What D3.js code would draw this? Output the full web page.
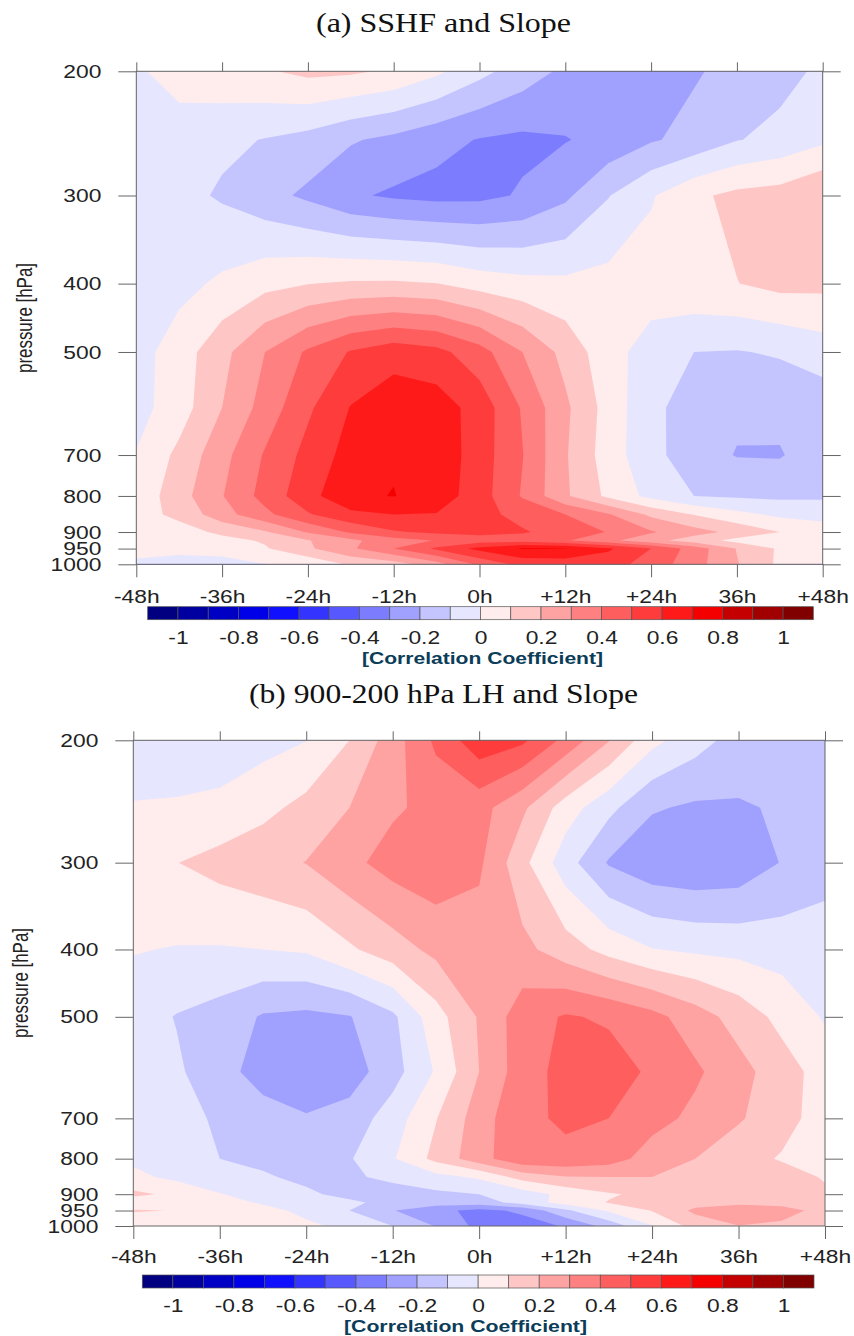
<!DOCTYPE html>
<html>
<head>
<meta charset="utf-8">
<script src="https://cdn.jsdelivr.net/npm/d3@7"></script>
<style>
  html, body { margin: 0; background: #fff; }
  text { font-family: "Liberation Sans", sans-serif; fill: #222; }
  .title { font-family: "Liberation Serif", serif; font-size: 28px; fill: #111; }
</style>
</head>
<body>
<svg id="chart" width="854" height="1336"></svg>
<script>
const lagHours = [-48, -42, -36, -30, -24, -18, -12, -6, 0, 6, 12, 18, 24, 30, 36, 42, 48];
const pressureLevels = [200, 250, 300, 400, 500, 600, 700, 800, 850, 900, 925, 950, 1000];

const xTickValues = [-48, -36, -24, -12, 0, 12, 24, 36, 48];
const xTickLabels = ['-48h', '-36h', '-24h', '-12h', '0h', '+12h', '+24h', '36h', '+48h'];
const yTickValues = [200, 300, 400, 500, 700, 800, 900, 950, 1000];

const contourLevels = d3.range(-10, 11).map(d => d / 10);
const bandColors = [
  '#000080', '#0000a0', '#0000c4', '#0000e8', '#1010ff', '#3434ff', '#5858ff', '#7c7cff', '#a0a0ff', '#c4c4ff', '#e6e6ff',
  '#ffecec', '#ffc6c6', '#ffa2a2', '#ff8080', '#ff5e5e', '#ff3c3c', '#ff1a1a', '#f40000', '#c40000', '#a00000', '#800000'
];
const colorbarTicks = [-1, -0.8, -0.6, -0.4, -0.2, 0, 0.2, 0.4, 0.6, 0.8, 1];

// correlation by pressure level (rows, 200 hPa first) and lag (columns)
const sshfSlope = [
  [-.02, .06, .07, .09, .125, .115, .085, .02, -.07, -.15, -.22, -.25, -.26, -.21, -.17, -.135, -.08],
  [-.06, -.07, -.08, -.104, -.135, -.19, -.225, -.27, -.305, -.32, -.305, -.27, -.21, -.17, -.105, -.07, -.02],
  [-.04, -.07, -.112, -.165, -.22, -.285, -.315, -.33, -.325, -.29, -.22, -.105, -.01, .08, .125, .14, .2],
  [-.04, -.03, .018, .069, .097, .112, .114, .102, .057, .031, .022, .033, .05, .08, .098, .13, .125],
  [-.04, .05, .17, .3, .415, .508, .56, .53, .44, .3, .167, .037, -.043, -.1, -.105, -.09, -.05],
  [-.035, .052, .2, .34, .483, .605, .66, .65, .56, .39, .22, .06, -.076, -.145, -.18, -.17, -.16],
  [.005, .125, .267, .41, .532, .64, .69, .669, .55, .404, .21, .05, -.07, -.155, -.205, -.208, -.14],
  [.03, .16, .295, .437, .564, .684, .703, .656, .546, .39, .215, .078, -.03, -.1, -.115, -.12, -.115],
  [.06, .125, .26, .374, .49, .574, .6, .595, .53, .47, .4, .31, .18, .095, .03, -.02, -.04],
  [.04, .06, .12, .19, .31, .415, .49, .52, .53, .51, .46, .395, .31, .24, .17, .1, .06],
  [.04, .06, .07, .111, .194, .278, .36, .405, .45, .455, .41, .325, .235, .15, .07, .05, .05],
  [.03, .04, .05, .09, .184, .284, .4, .518, .63, .708, .702, .615, .5, .355, .195, .085, .05],
  [-.018, -.058, -.05, -.002, .02, .115, .15, .26, .42, .53, .54, .54, .46, .34, .207, .08, .04]
];

const lhSlope = [
  [-.07, -.07, -.06, -.035, -.002, .1, .252, .42, .565, .52, .372, .205, .03, -.06, -.14, -.16, -.16],
  [.008, .013, .025, .072, .13, .2, .285, .33, .337, .22, .05, -.072, -.19, -.215, -.21, -.19, -.17],
  [.05, .098, .135, .165, .203, .274, .34, .37, .318, .13, -.056, -.21, -.27, -.285, -.27, -.195, -.15],
  [.005, -.005, -.007, 0, .013, .085, .155, .226, .25, .228, .147, .066, .004, -.017, -.027, -.042, -.036],
  [-.05, -.105, -.14, -.21, -.224, -.205, -.12, .06, .21, .353, .41, .385, .332, .247, .16, .07, -.01],
  [-.04, -.084, -.164, -.24, -.28, -.249, -.14, .01, .2, .354, .434, .45, .382, .317, .235, .146, .056],
  [-.03, -.065, -.115, -.16, -.19, -.16, -.05, .095, .25, .385, .41, .4, .338, .275, .21, .145, .045],
  [-.02, -.05, -.1, -.12, -.135, -.108, -.01, .13, .26, .38, .385, .35, .25, .2, .145, .09, .08],
  [.025, -.025, -.06, -.09, -.12, -.12, -.07, -.03, .015, .14, .195, .2, .2, .19, .17, .15, .09],
  [.12, .08, .005, -.04, -.085, -.125, -.155, -.12, -.1, -.05, .03, .09, .125, .15, .16, .15, .12],
  [.05, .04, .03, -.01, -.05, -.085, -.125, -.15, -.15, -.06, .04, .105, .13, .16, .18, .175, .14],
  [.105, .098, .07, .025, -.02, -.1, -.195, -.27, -.33, -.28, -.12, .015, .105, .22, .25, .23, .173],
  [.06, .05, .04, .03, .015, -.02, -.1, -.205, -.33, -.35, -.29, -.163, -.005, .14, .198, .185, .16]
];

const svg = d3.select('#chart');
const axisColor = '#666';
const labelStretch = 1.2; // the tick font is drawn wide

function stretchLabels(sel) {
  sel.selectAll('text').each(function() {
    const t = d3.select(this);
    t.attr('x', (+t.attr('x') || 0) / labelStretch)
     .attr('transform', `scale(${labelStretch},1)`)
     .style('font-size', '19px')
     .style('font-family', '"Liberation Sans", sans-serif')
     .attr('fill', '#222');
  });
}

function drawPanel(values, p) {
  const x = d3.scaleLinear().domain([-48, 48]).range([p.left, p.right]);
  const y = d3.scaleLog().domain([200, 1000]).range([p.top, p.bottom]);

  // grid position -> pixel, straight lines between grid points
  const colToX = c => x(lagHours[0] + 6 * Math.max(0, Math.min(lagHours.length - 1, c - 0.5)));
  const rowToY = r => {
    const f = Math.max(0, Math.min(pressureLevels.length - 1, r - 0.5));
    const i = Math.min(pressureLevels.length - 2, Math.floor(f));
    return d3.interpolateNumber(y(pressureLevels[i]), y(pressureLevels[i + 1]))(f - i);
  };
  const path = d3.geoPath(d3.geoTransform({
    point(cx, cy) { this.stream.point(colToX(cx), rowToY(cy)); }
  }));

  const contours = d3.contours()
    .size([lagHours.length, pressureLevels.length])
    .thresholds(contourLevels)(values.flat());

  const g = svg.append('g');
  g.append('rect')
    .attr('x', p.left).attr('y', p.top)
    .attr('width', p.right - p.left).attr('height', p.bottom - p.top)
    .attr('fill', bandColors[0]);

  g.selectAll('path.band').data(contours).join('path')
    .attr('class', 'band')
    .attr('d', path)
    .attr('fill', (d, i) => bandColors[i + 1]);

  // frame and ticks
  g.append('rect')
    .attr('x', p.left).attr('y', p.top)
    .attr('width', p.right - p.left).attr('height', p.bottom - p.top)
    .attr('fill', 'none').attr('stroke', axisColor);

  const bottomAxis = d3.axisBottom(x).tickValues(xTickValues)
    .tickFormat((d, i) => xTickLabels[i]).tickSize(13).tickPadding(p.xPad);
  g.append('g').attr('transform', `translate(0,${p.bottom})`).call(bottomAxis).call(stretchLabels);

  const topAxis = d3.axisTop(x).tickValues(xTickValues).tickSize(9).tickFormat('');
  g.append('g').attr('transform', `translate(0,${p.top})`).call(topAxis);

  const leftAxis = d3.axisLeft(y).tickValues(yTickValues)
    .tickFormat(d3.format('d')).tickSize(18).tickPadding(17);
  g.append('g').attr('transform', `translate(${p.left},0)`).call(leftAxis).call(stretchLabels);

  const rightAxis = d3.axisRight(y).tickValues(yTickValues).tickSize(18).tickFormat('');
  g.append('g').attr('transform', `translate(${p.right},0)`).call(rightAxis);

  g.selectAll('.domain').remove();
  g.selectAll('.tick line').attr('stroke', axisColor);

  // titles
  svg.append('text').attr('class', 'title')
    .attr('x', (p.titleLeft + p.titleRight) / 2).attr('y', p.titleY)
    .attr('text-anchor', 'middle')
    .attr('textLength', p.titleRight - p.titleLeft).attr('lengthAdjust', 'spacingAndGlyphs')
    .text(p.title);

  svg.append('text')
    .attr('transform', `translate(${p.yLabelX},${p.yLabelMid}) rotate(-90)`)
    .attr('text-anchor', 'middle')
    .attr('textLength', 110).attr('lengthAdjust', 'spacingAndGlyphs')
    .style('font-size', '22px')
    .text('pressure [hPa]');

  // colour bar
  const bar = d3.scaleLinear().domain([-1.1, 1.1]).range([p.barLeft, p.barRight]);
  const edges = [-1.1, ...contourLevels, 1.1];
  g.selectAll('rect.box').data(bandColors).join('rect')
    .attr('class', 'box')
    .attr('x', (d, i) => bar(edges[i]))
    .attr('width', (d, i) => bar(edges[i + 1]) - bar(edges[i]))
    .attr('y', p.barTop).attr('height', p.barHeight)
    .attr('fill', d => d)
    .attr('stroke', '#555').attr('stroke-width', 0.7);

  const barAxis = d3.axisBottom(bar).tickValues(colorbarTicks)
    .tickFormat(d => String(d)).tickSize(0).tickPadding(p.barPad);
  const barG = g.append('g').attr('transform', `translate(0,${p.barTop + p.barHeight})`).call(barAxis);
  barG.select('.domain').remove();
  barG.call(stretchLabels);

  svg.append('text')
    .attr('x', (p.unitLeft + p.unitRight) / 2).attr('y', p.unitY)
    .attr('text-anchor', 'middle')
    .attr('textLength', p.unitRight - p.unitLeft).attr('lengthAdjust', 'spacingAndGlyphs')
    .style('font-size', '16.5px').style('font-weight', 'bold').style('fill', '#0b3c58')
    .text('[Correlation Coefficient]');
}

drawPanel(sshfSlope, {
  left: 136.3, right: 822.7, top: 71.3, bottom: 564.3, xPad: 12,
  title: '(a) SSHF and Slope', titleLeft: 316, titleRight: 571, titleY: 32,
  yLabelX: 32, yLabelMid: 318,
  barLeft: 147.7, barRight: 813.3, barTop: 606.7, barHeight: 13, barPad: 11,
  unitLeft: 362, unitRight: 603, unitY: 664
});

drawPanel(lhSlope, {
  left: 133.3, right: 825, top: 740.3, bottom: 1226, xPad: 11,
  title: '(b) 900-200 hPa LH and Slope', titleLeft: 249, titleRight: 638, titleY: 703,
  yLabelX: 28, yLabelMid: 983,
  barLeft: 142.3, barRight: 814, barTop: 1275, barHeight: 13, barPad: 11,
  unitLeft: 344, unitRight: 587, unitY: 1332
});
</script>
</body>
</html>
